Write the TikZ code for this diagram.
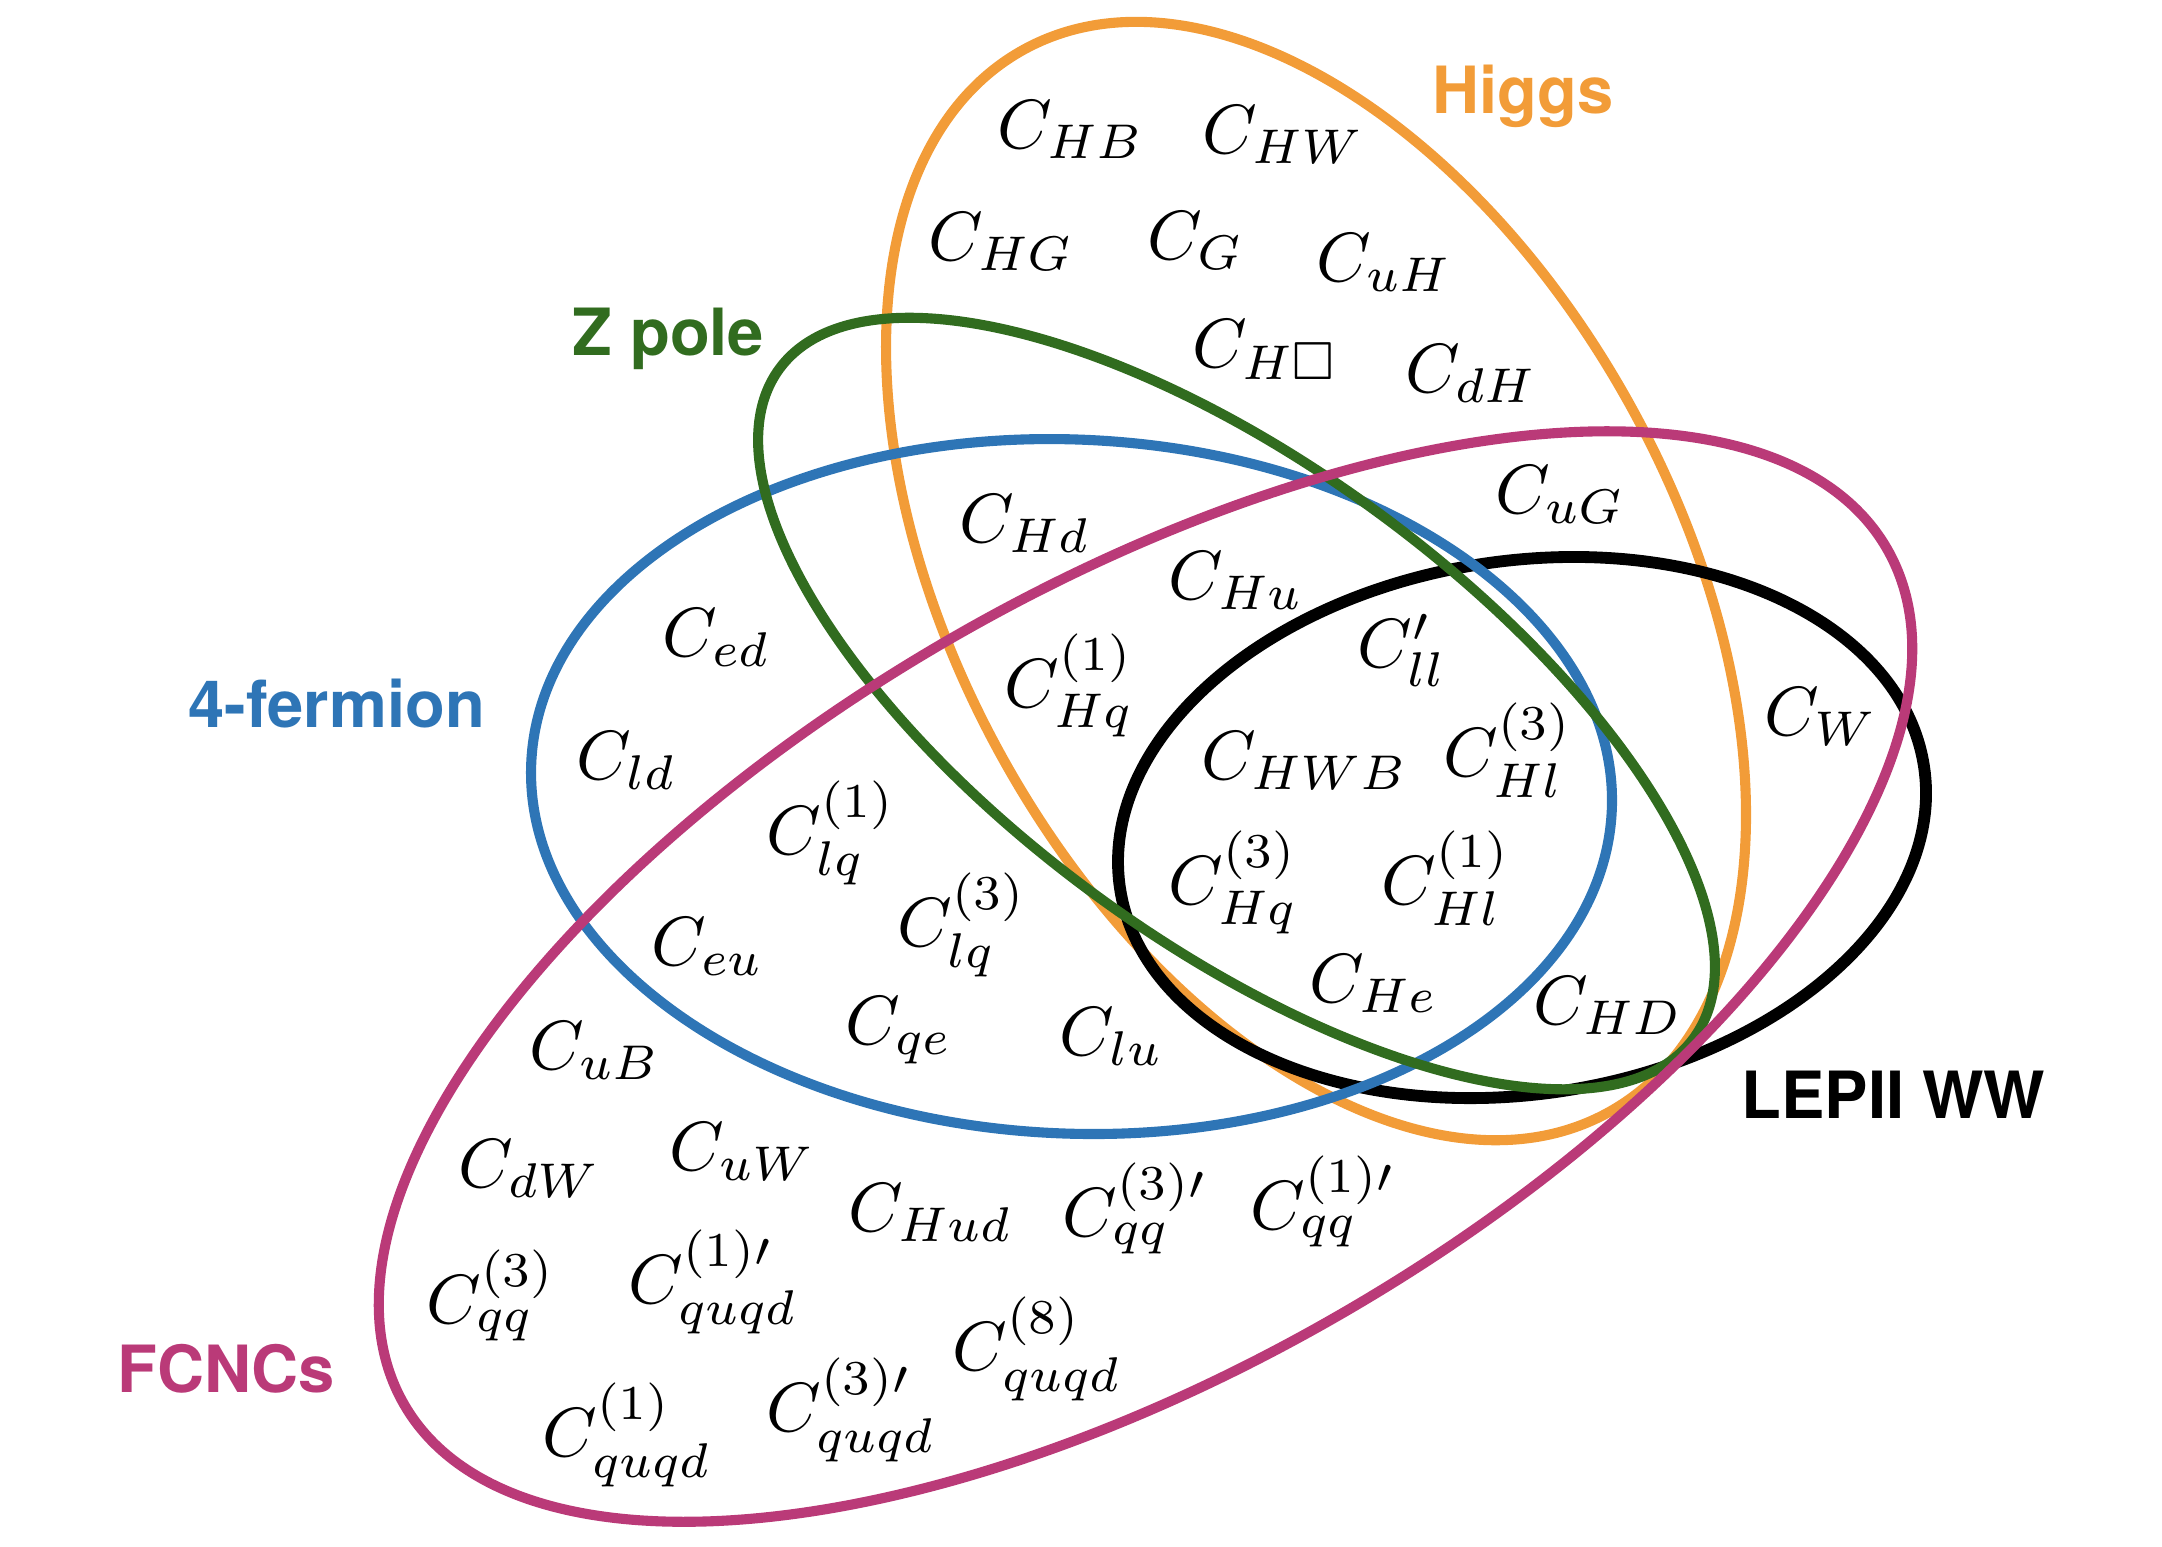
\documentclass[tikz,border=0pt]{standalone}
\usepackage{amssymb}
\usepackage{fontspec}
\newfontfamily\lblfont{TeX Gyre Heros}
\definecolor{higgsc}{RGB}{242,156,56}
\definecolor{zpolec}{RGB}{49,108,31}
\definecolor{fermc}{RGB}{46,117,182}
\definecolor{fcncc}{RGB}{186,58,120}
\tikzset{
  vset/.style={line width=1.45pt},
  lab/.style={anchor=base west, inner sep=0pt, font=\fontsize{10}{12}\selectfont},
  ttl/.style={anchor=base west, inner sep=0pt, font=\lblfont\bfseries\fontsize{9.35}{11}\selectfont},
}
\begin{document}
\begin{tikzpicture}[x=0.1436pt, y=-0.1436pt]
\useasboundingbox (0,0) rectangle (2162,1546);
% sets
\draw[vset, higgsc, rotate around={-61.2:(1316,581)}] (1316,581) ellipse [x radius=606.5, y radius=360];
\draw[vset, black, line width=1.7pt, rotate around={8.6:(1522,827.5)}] (1522,827.5) ellipse [x radius=406.6, y radius=266.6];
\draw[vset, fermc, rotate around={-2.5:(1071.5,786.5)}] (1071.5,786.5) ellipse [x radius=540.8, y radius=347];
\draw[vset, zpolec, rotate around={-36.2:(1236.5,703.5)}] (1236.5,703.5) ellipse [x radius=566.6, y radius=237.7];
\draw[vset, fcncc, rotate around={30:(1145.5,976.5)}] (1145.5,976.5) ellipse [x radius=856, y radius=390];
% titles
\node[ttl, text=higgsc] (thiggs) at (1431,113) {Higgs};
\node[ttl, text=zpolec] (tzpole) at (571,355) {Z pole};
\node[ttl, text=fermc] (tferm) at (187,727) {4-fermion};
\node[ttl, text=black] (tlep) at (1740,1118) {LEPII WW};
\node[ttl, text=fcncc] (tfcnc) at (116,1392) {FCNCs};
% operators
\node[lab] (hb) at (996,148) {$C_{HB}$};
\node[lab] (hw) at (1201,153) {$C_{HW}$};
\node[lab] (hg) at (927,260) {$C_{HG}$};
\node[lab] (g) at (1146,259) {$C_{G}$};
\node[lab] (uh) at (1315,281) {$C_{uH}$};
\node[lab] (hbox) at (1191,367) {$C_{H\Box}$};
\node[lab] (dh) at (1404,392) {$C_{dH}$};
\node[lab] (ug) at (1494,513) {$C_{uG}$};
\node[lab] (hd) at (958,542) {$C_{Hd}$};
\node[lab] (hu) at (1167,599) {$C_{Hu}$};
\node[lab] (llp) at (1356,667) {$C'_{ll}$};
\node[lab] (ed) at (661,656) {$C_{ed}$};
\node[lab] (hq1) at (1003,707) {$C^{(1)}_{Hq}$};
\node[lab] (w) at (1763,735) {$C_{W}$};
\node[lab] (ld) at (575,779) {$C_{ld}$};
\node[lab] (hwb) at (1200,779) {$C_{HWB}$};
\node[lab] (hl3) at (1442,776) {$C^{(3)}_{Hl}$};
\node[lab] (lq1) at (765,854) {$C^{(1)}_{lq}$};
\node[lab] (hq3) at (1167,904) {$C^{(3)}_{Hq}$};
\node[lab] (hl1) at (1380,904) {$C^{(1)}_{Hl}$};
\node[lab] (lq3) at (896,946) {$C^{(3)}_{lq}$};
\node[lab] (eu) at (650,965) {$C_{eu}$};
\node[lab] (he) at (1308,1002) {$C_{He}$};
\node[lab] (hdd) at (1532,1024) {$C_{HD}$};
\node[lab] (qe) at (844,1044) {$C_{qe}$};
\node[lab] (lu) at (1058,1055) {$C_{lu}$};
\node[lab] (ub) at (528,1069) {$C_{uB}$};
\node[lab] (uw) at (668,1170) {$C_{uW}$};
\node[lab] (dw) at (457,1187) {$C_{dW}$};
\node[lab] (hud) at (847,1231) {$C_{Hud}$};
\node[lab] (qq3p) at (1061,1236) {$C^{(3)\prime}_{qq}$};
\node[lab] (qq1p) at (1249,1229) {$C^{(1)\prime}_{qq}$};
\node[lab] (qq3) at (425,1323) {$C^{(3)}_{qq}$};
\node[lab] (quqd1p) at (627,1303) {$C^{(1)\prime}_{quqd}$};
\node[lab] (quqd8) at (951,1370) {$C^{(8)}_{quqd}$};
\node[lab] (quqd1) at (541,1456) {$C^{(1)}_{quqd}$};
\node[lab] (quqd3p) at (765,1431) {$C^{(3)\prime}_{quqd}$};
\end{tikzpicture}
\end{document}
